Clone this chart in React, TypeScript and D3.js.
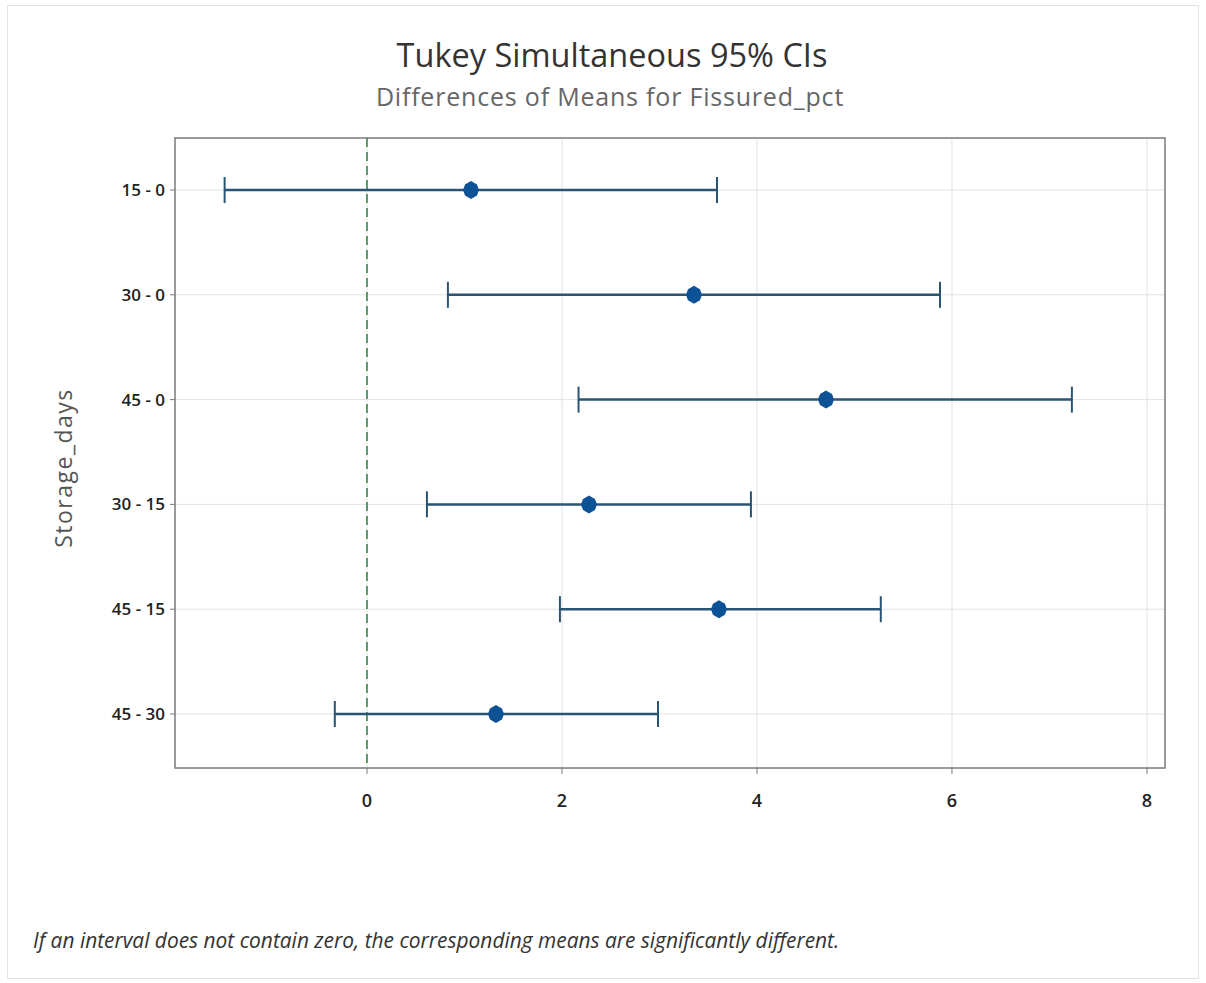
import React from 'react';
import * as d3 from 'd3';

const comparisons = ['15 - 0', '30 - 0', '45 - 0', '30 - 15', '45 - 15', '45 - 30'];
const means = [1.067, 3.354, 4.708, 2.277, 3.61, 1.323];
const lowers = [-1.46, 0.83, 2.17, 0.615, 1.979, -0.33];
const uppers = [3.59, 5.877, 7.23, 3.938, 5.27, 2.985];
const xTicks = [0, 2, 4, 6, 8];

const W = 1206;
const H = 983;
const left = 175, right = 1165, top = 138, bottom = 768;
const font = "'Open Sans', 'Noto Sans', sans-serif";

const marker = d3.line().curve(d3.curveLinearClosed)([
  [0, -9], [6, -5.5], [8, 0], [6, 5.5], [0, 9], [-6, 5.5], [-8, 0], [-6, -5.5],
]);

const App = () => {
  const x = d3.scaleLinear().domain([-1.969, 8.185]).range([left, right]);
  const y = d3.scalePoint().domain(comparisons).range([190, 714]);

  return (
    <svg width={W} height={H} style={{ position: 'absolute', left: 0, top: 0, background: '#fff' }}>
      <rect x={7.5} y={5.5} width={1191} height={973} fill="#fff" stroke="#e3e3e3" />
      <text x={612} y={67} textAnchor="middle" fontFamily={font} fontSize={32.5} fill="#333">
        Tukey Simultaneous 95% CIs
      </text>
      <text x={610} y={106} textAnchor="middle" fontFamily={font} fontSize={25} letterSpacing={0.8} fill="#666">
        Differences of Means for Fissured_pct
      </text>

      {/* grid */}
      {xTicks.map(t => (
        <line key={'gx' + t} x1={x(t)} x2={x(t)} y1={top} y2={bottom} stroke="#e2e2e2" />
      ))}
      {comparisons.map(c => (
        <line key={'gy' + c} x1={left} x2={right} y1={y(c)} y2={y(c)} stroke="#e2e2e2" />
      ))}

      {/* zero reference */}
      <line x1={x(0)} x2={x(0)} y1={top} y2={bottom} stroke="#2e7d46" strokeWidth={1.5} strokeDasharray="9,5" />

      {/* intervals */}
      {comparisons.map((c, i) => {
        const cy = y(c)!;
        return (
          <g key={c}>
            <line x1={x(lowers[i])} x2={x(uppers[i])} y1={cy} y2={cy} stroke="#2a5473" strokeWidth={2.5} />
            <line x1={x(lowers[i])} x2={x(lowers[i])} y1={cy - 13} y2={cy + 13} stroke="#2a5473" strokeWidth={2} />
            <line x1={x(uppers[i])} x2={x(uppers[i])} y1={cy - 13} y2={cy + 13} stroke="#2a5473" strokeWidth={2} />
            <path d={marker!} transform={`translate(${x(means[i])},${cy})`} fill="#0e5296" />
          </g>
        );
      })}

      {/* frame */}
      <rect x={left} y={top} width={right - left} height={bottom - top} fill="none" stroke="#7a7a7a" strokeWidth={1.5} />

      {/* y axis */}
      {comparisons.map(c => (
        <g key={'yl' + c}>
          <line x1={left - 5} x2={left} y1={y(c)} y2={y(c)} stroke="#7a7a7a" />
          <text x={left - 10} y={y(c)} dy="0.35em" textAnchor="end" fontFamily={font} fontSize={17} fontWeight={600} fill="#222">
            {c}
          </text>
        </g>
      ))}
      <text
        transform={`translate(72,468) rotate(-90)`}
        textAnchor="middle"
        fontFamily={font}
        fontSize={23}
        fill="#555"
        letterSpacing={1.5}
      >
        Storage_days
      </text>

      {/* x axis */}
      {xTicks.map(t => (
        <g key={'xl' + t}>
          <line x1={x(t)} x2={x(t)} y1={bottom} y2={bottom + 6} stroke="#7a7a7a" />
          <text x={x(t)} y={bottom + 39} textAnchor="middle" fontFamily={font} fontSize={18} fontWeight={600} fill="#222">
            {t}
          </text>
        </g>
      ))}

      <text x={33} y={948} fontFamily={font} fontSize={20.9} fontStyle="italic" fill="#333">
        If an interval does not contain zero, the corresponding means are significantly different.
      </text>
    </svg>
  );
};

export default App;
